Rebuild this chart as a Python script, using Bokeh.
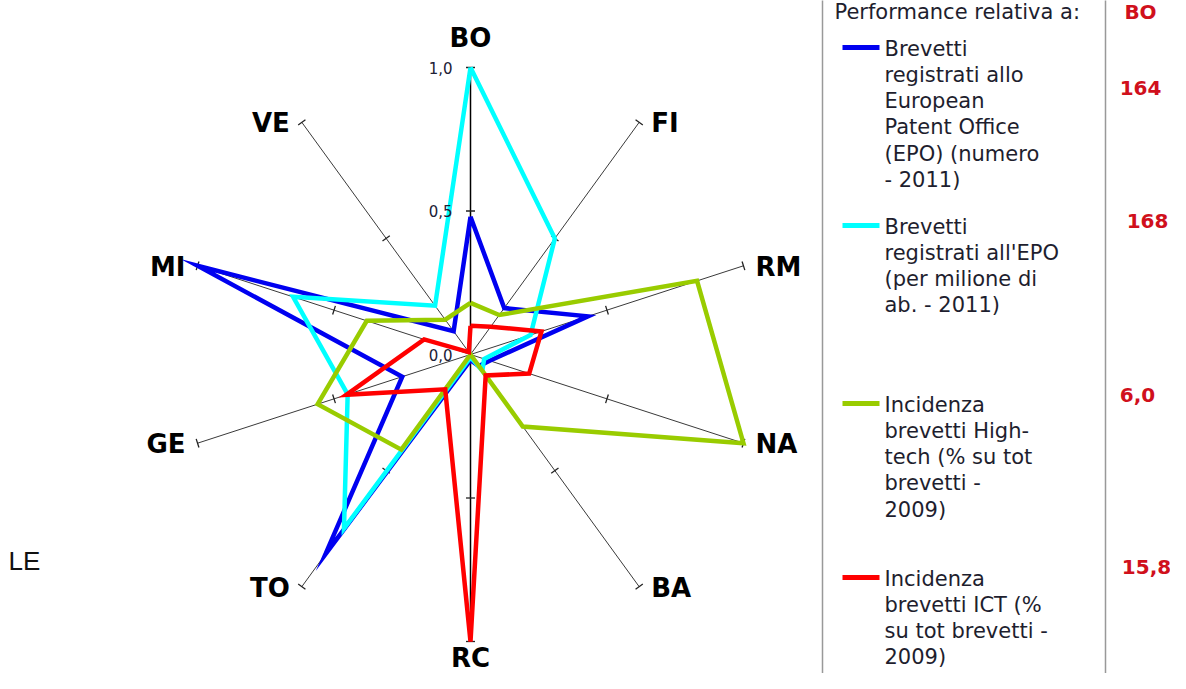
import numpy as np
from bokeh.plotting import figure
from bokeh.models import Range1d
from bokeh.core.properties import value
from bokeh.embed import file_html
from bokeh.resources import INLINE

# ---------------- data ----------------
categories = ["BO", "FI", "RM", "NA", "BA", "RC", "TO", "GE", "MI", "VE"]
epo_numero = [0.48, 0.20, 0.43, 0.07, 0.05, 0.02, 0.86, 0.25, 1.00, 0.10]
epo_per_milione = [1.00, 0.50, 0.22, 0.05, 0.07, 0.01, 0.75, 0.45, 0.65, 0.21]
hightech = [0.18, 0.17, 0.83, 1.00, 0.31, 0.00, 0.41, 0.56, 0.38, 0.15]
ict = [0.10, 0.12, 0.26, 0.215, 0.09, 1.00, 0.15, 0.455, 0.17, 0.01]
tick_values = [0.0, 0.5, 1.0]
tick_labels = ["0,0", "0,5", "1,0"]

legend_header = "Performance relativa a:"
legend_ref = "BO"
legend_texts = [
    ["Brevetti", "registrati allo", "European", "Patent Office", "(EPO) (numero", "- 2011)"],
    ["Brevetti", "registrati all'EPO", "(per milione di", "ab. - 2011)"],
    ["Incidenza", "brevetti High-", "tech (% su tot", "brevetti -", "2009)"],
    ["Incidenza", "brevetti ICT (%", "su tot brevetti -", "2009)"],
]
legend_values = ["164", "168", "6,0", "15,8"]
series = [epo_numero, epo_per_milione, hightech, ict]
colors = ["#0000F0", "#00FFFF", "#99CC00", "#FF0000"]

# ---------------- geometry helpers ----------------
W, H = 1170, 673
S = 287.0                 # pixels per unit radius
CXR, CYR = 470.0, 354.0   # centre in picture pixels


def X(px):
    return (px - CXR) / S


def Y(py):
    return (CYR - py) / S


p = figure(width=W, height=H, output_backend="svg", toolbar_location=None,
           x_range=Range1d(X(0), X(W)), y_range=Range1d(Y(H), Y(0)),
           min_border=0)
p.axis.visible = False
p.grid.visible = False
p.outline_line_color = None
p.background_fill_color = "white"

n = len(categories)
theta = np.radians(90 - 36 * np.arange(n))
ct, st = np.cos(theta), np.sin(theta)

# axes
p.segment(x0=[0] * n, y0=[0] * n, x1=list(ct), y1=list(st), line_color="#3a3a3a", line_width=1)
p.segment(x0=[0], y0=[-1], x1=[0], y1=[1], line_color="#000000", line_width=1.5)
# ticks at 0.5 and 1.0 (perpendicular)
tl = 4.5 / S
for r in (0.5, 1.0):
    p.segment(x0=list(r * ct - tl * (-st)), y0=list(r * st - tl * ct),
              x1=list(r * ct + tl * (-st)), y1=list(r * st + tl * ct),
              line_color="#222222", line_width=1.3)

# series
for vals, col in zip(series, colors):
    v = np.array(vals + vals[:1])
    th = np.concatenate([theta, theta[:1]])
    p.line(list(v * np.cos(th)), list(v * np.sin(th)), line_color=col, line_width=4.5,
           line_join="miter")

# tick labels along BO axis
p.text(x=[X(452)] * 3, y=list(tick_values), text=tick_labels,
       text_font=value("DejaVu Sans"), text_font_size="15px", text_color="#202035",
       text_align="right", text_baseline="middle")

# category labels
gap = 12 / S
for c, s_, cat in zip(ct, st, categories):
    if abs(c) < 1e-6:
        if s_ > 0:
            x, y, a, b = 0.0, 1.0 + 30 / S, "center", "middle"
        else:
            x, y, a, b = 0.0, -1.0 - 1 / S, "center", "top"
    elif c > 0:
        x, y, a, b = c + gap, s_ - 1 / S, "left", "middle"
    else:
        x, y, a, b = c - gap, s_ - 1 / S, "right", "middle"
    p.text(x=[x], y=[y], text=[cat], text_align=a, text_baseline=b,
           text_font=value("DejaVu Sans"), text_font_style="bold", text_font_size="26px",
           text_color="#000000")

# stray label at left
p.text(x=[X(8)], y=[Y(560)], text=["LE"], text_font=value("Liberation Sans"),
       text_font_size="26px", text_color="#111111", text_baseline="middle")

# ---------------- legend box ----------------
p.quad(left=[X(822)], right=[X(1200)], top=[Y(-10)], bottom=[Y(685)],
       fill_color=None, line_color="#999999", line_width=1.5)
p.segment(x0=[X(1105)], y0=[Y(-10)], x1=[X(1105)], y1=[Y(685)],
          line_color="#999999", line_width=1.5)

font = value("DejaVu Sans")
p.text(x=[X(834)], y=[Y(11)], text=[legend_header], text_font=font, text_font_size="21px",
       text_color="#1e1e2e", text_baseline="middle")
p.text(x=[X(1140)], y=[Y(11)], text=[legend_ref], text_font=font, text_font_size="20px",
       text_font_style="bold", text_color="#D0101C", text_align="center", text_baseline="middle")

entry_top = [47, 225, 403, 577]
value_y = [87, 220, 394, 566]
value_x = [1140, 1147, 1137, 1146]
lh = 26.3
for lines, ty, col, val, vy, vx in zip(legend_texts, entry_top, colors, legend_values, value_y, value_x):
    p.segment(x0=[X(842)], y0=[Y(ty)], x1=[X(879)], y1=[Y(ty)], line_color=col, line_width=5)
    p.text(x=[X(884)] * len(lines), y=[Y(ty + 1 + i * lh) for i in range(len(lines))], text=lines,
           text_font=font, text_font_size="21px", text_color="#1e1e2e", text_baseline="middle")
    p.text(x=[X(vx)], y=[Y(vy)], text=[val], text_font=font, text_font_size="20px",
           text_font_style="bold", text_color="#D0101C", text_align="center", text_baseline="middle")

open("out.html", "w").write(file_html(p, INLINE))
